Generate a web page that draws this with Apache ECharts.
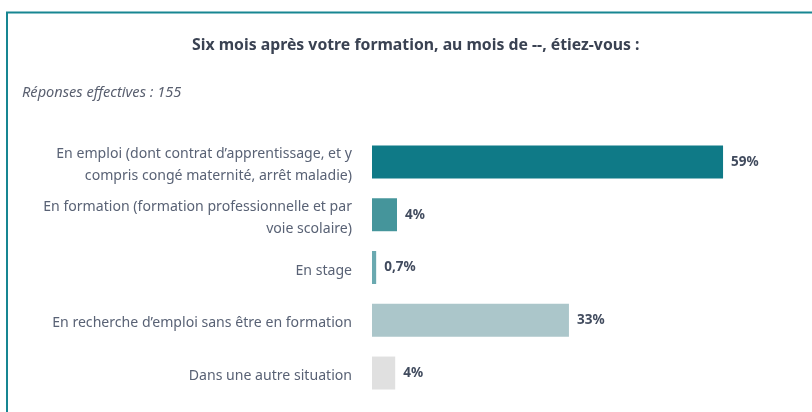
<!DOCTYPE html>
<html><head><meta charset="utf-8">
<script src="https://cdn.jsdelivr.net/npm/echarts@6/dist/echarts.min.js"></script>
<style>html,body{margin:0;padding:0;background:#fff}#c{width:812px;height:412px}</style>
</head><body><div id="c"></div>
<script>
const categories = [
  "En emploi (dont contrat d’apprentissage, et y\ncompris congé maternité, arrêt maladie)",
  "En formation (formation professionnelle et par\nvoie scolaire)",
  "En stage",
  "En recherche d’emploi sans être en formation",
  "Dans une autre situation"
];
const values = [59, 4.2, 0.7, 33.1, 3.9];
const valueLabels = ["59%", "4%", "0,7%", "33%", "4%"];
const barColors = ["#0f7a87", "#45959b", "#6aa9b0", "#abc6ca", "#e0e0e0"];
const titleText = "Six mois après votre formation, au mois de --, étiez-vous :";
const subtitleText = "Réponses effectives : 155";

const chart = echarts.init(document.getElementById('c'), null, {renderer: 'canvas'});
const FONT = "'Noto Sans', sans-serif";
chart.setOption({
  animation: false,
  backgroundColor: '#fff',
  title: [
    {text: titleText, left: 187, top: 32, textStyle: {fontFamily: FONT, fontSize: 15.8, fontWeight: 'bold', color: '#3a4252'}},
    {text: subtitleText, left: 17, top: 80, textStyle: {fontFamily: FONT, fontSize: 14.6, fontStyle: 'italic', fontWeight: 'normal', color: '#5a6070'}}
  ],
  graphic: [
    {type: 'line', shape: {x1: 6, y1: 12.5, x2: 812, y2: 12.5}, style: {stroke: '#178692', lineWidth: 2}},
    {type: 'line', shape: {x1: 7, y1: 12, x2: 7, y2: 412}, style: {stroke: '#178692', lineWidth: 2}}
  ],
  grid: {left: 372, right: 23.5, top: 135.6, bottom: 12.6, containLabel: false},
  xAxis: {type: 'value', min: 0, max: 70, show: false},
  yAxis: {
    type: 'category', data: categories, inverse: true,
    axisLine: {show: false}, axisTick: {show: false},
    axisLabel: {
      interval: 0, hideOverlap: false, margin: 20, align: 'right',
      formatter: v => '{s| }\n' + v.split('\n').map(l => '{t|' + l + '}').join('\n'),
      rich: {
        s: {fontSize: 1, lineHeight: 6},
        t: {fontFamily: FONT, fontSize: 14.1, color: '#596275', lineHeight: 21.5, align: 'right'}
      }
    }
  },
  series: [{
    type: 'bar', barWidth: '62.5%',
    data: values.map((v, i) => ({value: v, itemStyle: {color: barColors[i]}})),
    label: {show: true, position: 'right', distance: 8, fontFamily: FONT, fontSize: 13.5, fontWeight: 'bold', color: '#414b5e',
      formatter: p => valueLabels[p.dataIndex]}
  }]
});
</script></body></html>
